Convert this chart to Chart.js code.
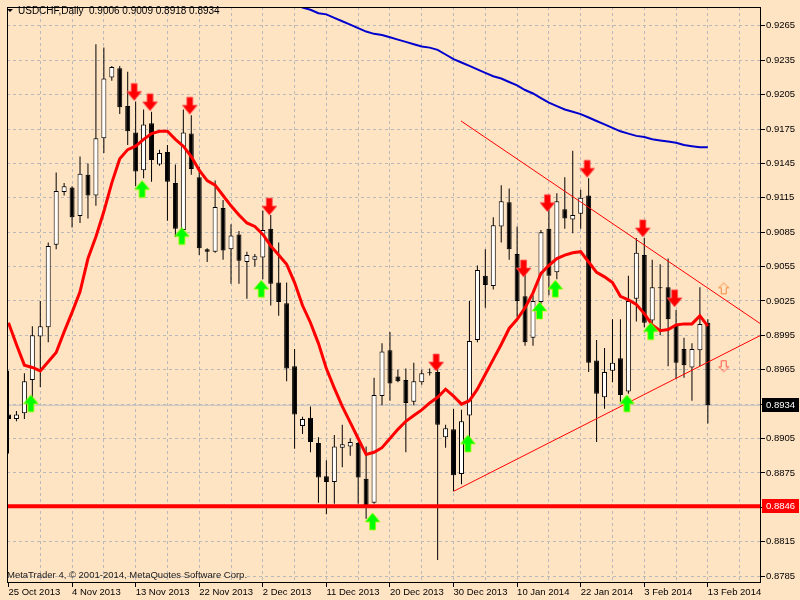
<!DOCTYPE html>
<html>
<head>
<meta charset="utf-8">
<script src="https://cdn.jsdelivr.net/npm/chart.js@4.4.1/dist/chart.umd.min.js"></script>
<style>
  html, body { margin: 0; padding: 0; background: #FFE4C4; }
  canvas { display: block; }
</style>
</head>
<body>
<canvas id="usdchfChart" width="800" height="600"></canvas>
<script>
// USDCHF daily candles, 25 Oct 2013 .. 13 Feb 2014 (bar 0 is the cut-off one at the left edge)
const opens = [
  0.8926, 0.8922, 0.8927, 0.8956, 0.8994, 0.9002, 0.9074, 0.9120, 0.9124, 0.9099,
  0.9135, 0.9117, 0.9167, 0.9220, 0.9228, 0.9195, 0.9172, 0.9139, 0.9180, 0.9144,
  0.9155, 0.9128, 0.9087, 0.9171, 0.9133, 0.9070, 0.9068, 0.9106, 0.9070, 0.9083,
  0.9059, 0.9061, 0.9063, 0.9088, 0.9041, 0.9023, 0.8968, 0.8916, 0.8923, 0.8901,
  0.8872, 0.8867, 0.8897, 0.8898, 0.8901, 0.8870, 0.8849, 0.8942, 0.8982, 0.8959,
  0.8956, 0.8937, 0.8954, 0.8962, 0.8963, 0.8906, 0.8913, 0.8874, 0.8925, 0.8991,
  0.9047, 0.9038, 0.9090, 0.9111, 0.9066, 0.9029, 0.8993, 0.9024, 0.9088, 0.9050,
  0.9105, 0.9096, 0.9101, 0.9117, 0.8973, 0.8941, 0.8964, 0.8975, 0.8946, 0.9027,
  0.9065, 0.9008, 0.9036, 0.9037, 0.9004, 0.8983, 0.8967, 0.8982, 0.9006
];
const highs = [
  0.8964, 0.8929, 0.8962, 0.9003, 0.9025, 0.9076, 0.9137, 0.9128, 0.9125, 0.9151,
  0.9145, 0.9249, 0.9246, 0.9230, 0.9230, 0.9225, 0.9199, 0.9192, 0.9190, 0.9157,
  0.9161, 0.9144, 0.9192, 0.9187, 0.9142, 0.9071, 0.9130, 0.9113, 0.9092, 0.9086,
  0.9068, 0.9066, 0.9104, 0.9100, 0.9076, 0.9041, 0.8983, 0.8924, 0.8933, 0.8906,
  0.8886, 0.8908, 0.8917, 0.8905, 0.8902, 0.8898, 0.8958, 0.8988, 0.8998, 0.8965,
  0.8966, 0.8971, 0.8965, 0.8966, 0.8970, 0.8917, 0.8931, 0.8930, 0.9025, 0.9056,
  0.9070, 0.9098, 0.9126, 0.9123, 0.9090, 0.9050, 0.9030, 0.9087, 0.9110, 0.9119,
  0.9133, 0.9156, 0.9122, 0.9132, 0.8991, 0.8984, 0.9009, 0.9009, 0.9047, 0.9080,
  0.9080, 0.9061, 0.9057, 0.9062, 0.9017, 0.8993, 0.8988, 0.9037, 0.9009
];
const lows = [
  0.8892, 0.8920, 0.8922, 0.8936, 0.8950, 0.8989, 0.9070, 0.9117, 0.9089, 0.9093,
  0.9097, 0.9108, 0.9154, 0.9217, 0.9188, 0.9161, 0.9125, 0.9132, 0.9129, 0.9143,
  0.9095, 0.9081, 0.9081, 0.9135, 0.9065, 0.9059, 0.9067, 0.9061, 0.9040, 0.9040,
  0.9027, 0.9055, 0.9044, 0.9021, 0.9012, 0.8955, 0.8896, 0.8909, 0.8893, 0.8849,
  0.8839, 0.8848, 0.8880, 0.8890, 0.8848, 0.8835, 0.8848, 0.8934, 0.8938, 0.8954,
  0.8893, 0.8934, 0.8952, 0.8960, 0.8799, 0.8897, 0.8859, 0.8865, 0.8905, 0.8989,
  0.9019, 0.9035, 0.9076, 0.9061, 0.9011, 0.8986, 0.8986, 0.9022, 0.9030, 0.9044,
  0.9088, 0.9084, 0.9088, 0.8963, 0.8902, 0.8931, 0.8954, 0.8937, 0.8944, 0.9007,
  0.9002, 0.9005, 0.8995, 0.8968, 0.8957, 0.8958, 0.8938, 0.8968, 0.8918
];
const closes = [
  0.8922, 0.8926, 0.8955, 0.8995, 0.9003, 0.9073, 0.9121, 0.9125, 0.9098, 0.9136,
  0.9117, 0.9167, 0.9219, 0.9229, 0.9194, 0.9173, 0.9138, 0.9179, 0.9148, 0.9154,
  0.9129, 0.9088, 0.9172, 0.9140, 0.9071, 0.9068, 0.9107, 0.9069, 0.9082, 0.9060,
  0.9065, 0.9064, 0.9087, 0.9040, 0.9024, 0.8966, 0.8926, 0.8922, 0.8902, 0.8871,
  0.8867, 0.8898, 0.8900, 0.8902, 0.8871, 0.8847, 0.8943, 0.8981, 0.8953, 0.8955,
  0.8936, 0.8955, 0.8962, 0.8962, 0.8917, 0.8914, 0.8873, 0.8920, 0.8990, 0.9052,
  0.9039, 0.9091, 0.9112, 0.9070, 0.9025, 0.8989, 0.9025, 0.9085, 0.9047, 0.9112,
  0.9097, 0.9100, 0.9115, 0.8971, 0.8944, 0.8963, 0.8971, 0.8943, 0.9025, 0.9067,
  0.9006, 0.9037, 0.9036, 0.9009, 0.8971, 0.8969, 0.8983, 0.9005, 0.8934
];

// red (fast) moving average, one value per bar
const maFast = [
  0.9006, 0.8987, 0.8969, 0.8967, 0.8964, 0.8972, 0.8980, 0.8998, 0.9015, 0.9033,
  0.9062, 0.9081, 0.9103, 0.9128, 0.9149, 0.9157, 0.9160, 0.9166, 0.9171, 0.9173,
  0.9173, 0.9166, 0.9160, 0.9151, 0.9139, 0.9130, 0.9126, 0.9117, 0.9108, 0.9100,
  0.9093, 0.9090, 0.9083, 0.9073, 0.9065, 0.9057, 0.9041, 0.9021, 0.9006, 0.8988,
  0.8966, 0.8949, 0.8933, 0.8919, 0.8905, 0.8891, 0.8893, 0.8897, 0.8905, 0.8913,
  0.8920, 0.8925, 0.8930, 0.8936, 0.8941, 0.8948, 0.8942, 0.8935, 0.8938, 0.8948,
  0.8961, 0.8974, 0.8987, 0.9001, 0.9009, 0.9019, 0.9032, 0.9049, 0.9056, 0.9062,
  0.9065, 0.9067, 0.9068, 0.9059, 0.9050, 0.9046, 0.9041, 0.9029, 0.9026, 0.9022,
  0.9014, 0.9004, 0.8999, 0.9000, 0.9004, 0.9005, 0.9005, 0.9012, 0.9003
];
// blue (slow) moving average, visible from bar 36 on
const maSlowStart = 36;
const maSlow = [
  0.9284, 0.9281, 0.9279, 0.9276, 0.9275, 0.9272, 0.9269, 0.9266, 0.9263, 0.9260,
  0.9258, 0.9257, 0.9255, 0.9253, 0.9251, 0.9249, 0.9247, 0.9246, 0.9244, 0.9240,
  0.9236, 0.9233, 0.9230, 0.9227, 0.9224, 0.9221, 0.9219, 0.9216, 0.9213, 0.9209,
  0.9206, 0.9202, 0.9198, 0.9195, 0.9192, 0.9190, 0.9188, 0.9185, 0.9182, 0.9179,
  0.9176, 0.9173, 0.9171, 0.9169, 0.9168, 0.9166, 0.9165, 0.9164, 0.9163, 0.9161,
  0.9160, 0.9159, 0.9159
];

// signal arrows: bar index + price of the arrow tip
const sellBars = [16, 18, 23, 33, 54, 65, 68, 73, 80, 84];
const sellTips = [0.9199, 0.9190, 0.9187, 0.9099, 0.8963, 0.9045, 0.9102, 0.9132, 0.9080, 0.9019];
const buyBars = [3, 17, 22, 32, 46, 58, 67, 69, 78, 81];
const buyTips = [0.8944, 0.9131, 0.9090, 0.9044, 0.8841, 0.8909, 0.9025, 0.9044, 0.8944, 0.9007];

// trend lines (triangle), bar index / price of each end
const upperTrendX = [56.94, 94.65];
const upperTrendY = [0.9182, 0.9005];
const lowerTrendX = [56.03, 94.65];
const lowerTrendY = [0.8859, 0.8995];

const supportLevel = 0.8846;
const alertUp = { x: 90, y: 0.9036 };
const alertDown = { x: 90, y: 0.8968 };

// axis
const priceTicks = [];
for (let k = 0; k <= 16; k++) priceTicks.push((8785 + 30 * k) / 10000);
const dateLabels = ["25 Oct 2013", "4 Nov 2013", "13 Nov 2013", "22 Nov 2013", "2 Dec 2013",
  "11 Dec 2013", "20 Dec 2013", "30 Dec 2013", "10 Jan 2014", "22 Jan 2014", "3 Feb 2014", "13 Feb 2014"];

const BG = "#FFE4C4";
const GRID = "#B9B9B9";
const last = opens.length - 1;
const lastClose = closes[last];

function arrowImage(dir, fill, edge) {
  const c = document.createElement("canvas");
  c.width = 20;
  c.height = 40;
  const g = c.getContext("2d");
  g.translate(8.5, 20); // tip sits on the canvas centre row, 1.5px left of centre
  if (dir == "up") g.scale(1, -1);
  g.beginPath();
  g.moveTo(-3, -18);
  g.lineTo(3, -18);
  g.lineTo(3, -10);
  g.lineTo(7.5, -10);
  g.lineTo(0, -1);
  g.lineTo(-7.5, -10);
  g.lineTo(-3, -10);
  g.closePath();
  g.fillStyle = fill;
  g.fill();
  g.strokeStyle = edge;
  g.lineWidth = 1;
  g.stroke();
  return c;
}

function hollowArrow(dir, color) {
  const c = document.createElement("canvas");
  c.width = 14;
  c.height = 14;
  const g = c.getContext("2d");
  g.translate(7, 7);
  if (dir == "down") g.scale(1, -1);
  g.beginPath();
  g.moveTo(0, -5.5);
  g.lineTo(5, -0.5);
  g.lineTo(2.5, -0.5);
  g.lineTo(2.5, 5.5);
  g.lineTo(-2.5, 5.5);
  g.lineTo(-2.5, -0.5);
  g.lineTo(-5, -0.5);
  g.closePath();
  g.strokeStyle = color;
  g.lineWidth = 1;
  g.stroke();
  return c;
}

const sellImg = arrowImage("down", "#FF0000", "rgba(255,90,90,0.8)");
const buyImg = arrowImage("up", "#00FF00", "rgba(160,255,0,0.8)");

const bars = opens.map((o, i) => i);
const wickData = bars.map((i) => ({ x: i, y: [lows[i], highs[i]] }));
const bodyData = bars.map((i) => ({ x: i, y: [opens[i], closes[i]] }));
const fastData = maFast.map((v, i) => ({ x: i, y: v }));
const slowData = maSlow.map((v, i) => ({ x: i + maSlowStart, y: v }));

const chartDecor = {
  id: "chartDecor",
  beforeDraw(chart) {
    const c = chart.ctx;
    c.save();
    c.fillStyle = BG;
    c.fillRect(0, 0, chart.width, chart.height);
    c.restore();
  },
  afterDraw(chart) {
    const c = chart.ctx;
    const a = chart.chartArea;
    const y = chart.scales.y;
    c.save();
    c.strokeStyle = "#000";
    c.lineWidth = 1;
    c.strokeRect(a.left + 0.5, a.top + 0.5, a.right - a.left - 1, a.bottom - a.top - 1);

    c.font = "9.5px 'Liberation Sans', Arial, sans-serif";
    c.textBaseline = "middle";
    const boxes = [
      [lastClose, "#000000"],
      [supportLevel, "#FF0000"],
    ];
    boxes.forEach(([v, col]) => {
      const py = Math.round(y.getPixelForValue(v));
      c.fillStyle = col;
      c.fillRect(a.right + 1, py - 7, 37, 14);
      c.fillStyle = "#FFFFFF";
      c.fillText(v.toFixed(4), a.right + 5, py + 0.5);
    });

    c.font = "10px 'Liberation Sans', Arial, sans-serif";
    c.fillStyle = "#000";
    c.beginPath();
    c.moveTo(7, 9);
    c.lineTo(13, 9);
    c.lineTo(10, 12);
    c.closePath();
    c.fill();
    c.fillText("USDCHF,Daily", 18, 11);
    c.fillText([opens[last], highs[last], lows[last], closes[last]].map((v) => v.toFixed(4)).join(" "), 89, 11);

    c.font = "9.5px 'Liberation Sans', Arial, sans-serif";
    c.fillStyle = "#1A1A1A";
    c.fillText("MetaTrader 4, \u00A9 2001-2014, MetaQuotes Software Corp.", 7, 575);
    c.restore();
  },
};

Chart.defaults.font.family = "'Liberation Sans', Arial, sans-serif";
Chart.defaults.font.size = 9.5;
Chart.defaults.color = "#000";

new Chart(document.getElementById("usdchfChart"), {
  type: "bar",
  data: {
    datasets: [
      {
        label: "bid",
        type: "line",
        data: [{ x: -2, y: lastClose }, { x: 100, y: lastClose }],
        borderColor: "#C0C0C0",
        borderWidth: 1,
        pointRadius: 0,
        clip: 0,
        order: 10,
      },
      {
        label: "wicks",
        data: wickData,
        backgroundColor: "#000",
        borderWidth: 0,
        barThickness: 1,
        grouped: false,
        inflateAmount: 0,
        borderSkipped: false,
        order: 9,
      },
      {
        label: "bodies",
        data: bodyData,
        backgroundColor: (ctx) => (closes[ctx.dataIndex] > opens[ctx.dataIndex] ? "#FFFFFF" : "#000000"),
        borderColor: "#000",
        borderWidth: 1,
        barThickness: 5,
        minBarLength: 1,
        grouped: false,
        inflateAmount: 0,
        borderSkipped: false,
        order: 8,
      },
      {
        label: "MA slow",
        type: "line",
        data: slowData,
        borderColor: "#0000CD",
        borderWidth: 2,
        pointRadius: 0,
        tension: 0,
        clip: 0,
        order: 7,
      },
      {
        label: "MA fast",
        type: "line",
        data: fastData,
        borderColor: "#FF0000",
        borderWidth: 3,
        pointRadius: 0,
        tension: 0,
        clip: 0,
        order: 6,
      },
      {
        label: "upper trend",
        type: "line",
        data: upperTrendX.map((x, i) => ({ x: x, y: upperTrendY[i] })),
        borderColor: "#FF0000",
        borderWidth: 1,
        pointRadius: 0,
        clip: 0,
        order: 5,
      },
      {
        label: "lower trend",
        type: "line",
        data: lowerTrendX.map((x, i) => ({ x: x, y: lowerTrendY[i] })),
        borderColor: "#FF0000",
        borderWidth: 1,
        pointRadius: 0,
        clip: 0,
        order: 5,
      },
      {
        label: "support",
        type: "line",
        data: [{ x: -2, y: supportLevel }, { x: 100, y: supportLevel }],
        borderColor: "#FF0000",
        borderWidth: 4,
        pointRadius: 0,
        clip: 0,
        order: 4,
      },
      {
        label: "sell",
        type: "line",
        showLine: false,
        data: sellBars.map((b, i) => ({ x: b, y: sellTips[i] })),
        pointStyle: sellImg,
        pointRadius: 6,
        order: 3,
      },
      {
        label: "buy",
        type: "line",
        showLine: false,
        data: buyBars.map((b, i) => ({ x: b, y: buyTips[i] })),
        pointStyle: buyImg,
        pointRadius: 6,
        order: 3,
      },
      {
        label: "alerts",
        type: "line",
        showLine: false,
        data: [alertUp, alertDown],
        pointStyle: [hollowArrow("up", "#F08A3C"), hollowArrow("down", "#FF5A4A")],
        pointRadius: 6,
        order: 2,
      },
    ],
  },
  options: {
    responsive: false,
    animation: false,
    events: [],
    layout: { padding: { left: 2, top: 2, right: 0, bottom: 0 } },
    plugins: { legend: { display: false }, tooltip: { enabled: false } },
    scales: {
      x: {
        type: "linear",
        min: -0.1875,
        max: -0.1875 + 759 / 8,
        offset: false,
        bounds: "data",
        grid: {
          offset: false,
          color: (ctx) => (ctx.tick && ctx.tick.value == 0 ? "rgba(0,0,0,0)" : GRID),
          tickLength: 4,
          tickColor: (ctx) => (ctx.tick && ctx.tick.value % 8 == 0 ? "#000" : "rgba(0,0,0,0)"),
        },
        border: { display: false, dash: [3, 3] },
        ticks: {
          autoSkip: false,
          maxRotation: 0,
          minRotation: 0,
          align: "start",
          padding: 0,
          callback: (v) => (v % 8 == 0 ? dateLabels[v / 8] : ""),
        },
        afterBuildTicks: (s) => {
          const t = [];
          for (let b = 0; b <= 92; b += 4) t.push({ value: b });
          s.ticks = t;
        },
        afterFit: (s) => {
          s.height = 17;
        },
      },
      y: {
        type: "linear",
        position: "right",
        min: 0.877895,
        max: 0.928143,
        bounds: "data",
        grid: { color: GRID, tickLength: 4, tickColor: "#000" },
        border: { display: false, dash: [3, 3] },
        ticks: {
          padding: 1,
          callback: (v) => (Math.abs(v - 0.8935) < 1e-6 || Math.abs(v - 0.8845) < 1e-6 ? "" : v.toFixed(4)),
        },
        afterBuildTicks: (s) => {
          s.ticks = priceTicks.map((v) => ({ value: v }));
        },
        afterFit: (s) => {
          s.width = 39;
        },
      },
    },
  },
  plugins: [chartDecor],
});
</script>
</body>
</html>
